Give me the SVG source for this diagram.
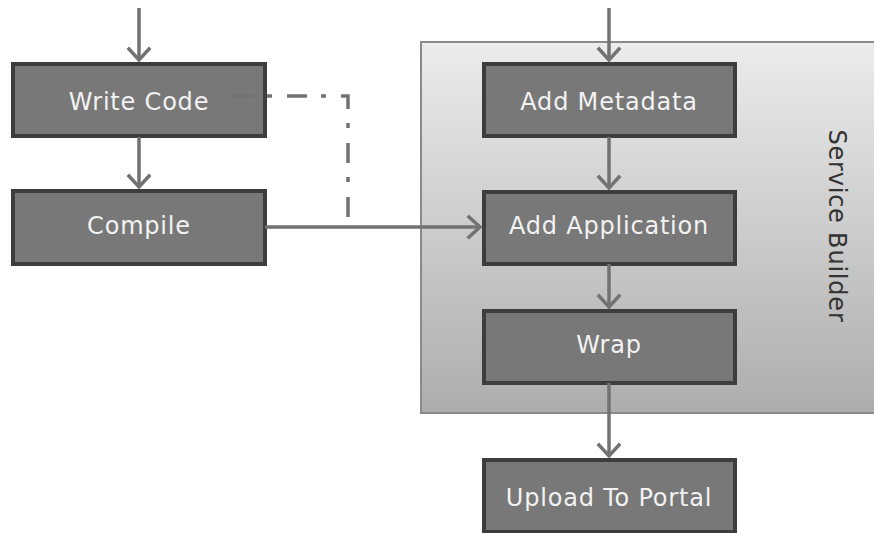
<svg xmlns="http://www.w3.org/2000/svg" width="874" height="533" viewBox="0 0 874 533">
<defs>
<linearGradient id="grad" x1="0" y1="0" x2="0" y2="1">
<stop offset="0" stop-color="#ececec"/>
<stop offset="1" stop-color="#adadad"/>
</linearGradient>
<marker id="arr" markerUnits="userSpaceOnUse" markerWidth="30" markerHeight="30" viewBox="-15 -15 30 30" refX="0" refY="0" orient="auto" overflow="visible">
<path d="M-11,-10 L0,0 L-11,10" fill="none" stroke="#727272" stroke-width="3.5" stroke-linecap="square"/>
</marker>
<style>
.box{fill:#787878;stroke:#3d3d3d;stroke-width:4}
.lbl{font-family:"DejaVu Sans",sans-serif;font-size:24px;letter-spacing:0.8px;fill:#f2f2f2;text-anchor:middle}
.con{fill:none;stroke:#727272;stroke-width:3.5}
</style>
</defs>
<rect width="874" height="533" fill="#ffffff"/>
<g id="service-builder">
<rect x="421" y="42" width="460" height="371" fill="url(#grad)" stroke="#8a8a8a" stroke-width="2"/>
<text x="829" y="226" transform="rotate(90 829 226)" font-family="DejaVu Sans, sans-serif" font-size="24" letter-spacing="0.8" fill="#333333" text-anchor="middle">Service Builder</text>
</g>
<g id="write-code"><rect class="box" x="13" y="64" width="252" height="72"/><text class="lbl" x="139" y="110">Write Code</text></g>
<g id="compile"><rect class="box" x="13" y="191" width="252" height="73"/><text class="lbl" x="139" y="234">Compile</text></g>
<g id="add-metadata"><rect class="box" x="484" y="64" width="251" height="72"/><text class="lbl" x="609" y="110">Add Metadata</text></g>
<g id="add-application"><rect class="box" x="484" y="192" width="251" height="72"/><text class="lbl" x="609" y="234">Add Application</text></g>
<g id="wrap"><rect class="box" x="484" y="311" width="251" height="72"/><text class="lbl" x="609" y="353">Wrap</text></g>
<g id="upload-to-portal"><rect class="box" x="484" y="460" width="251" height="72"/><text class="lbl" x="609" y="506">Upload To Portal</text></g>
<g id="connectors">
<path class="con" d="M139,8 V60" marker-end="url(#arr)"/>
<path class="con" d="M139,137 V187" marker-end="url(#arr)"/>
<path class="con" d="M609,8 V60" marker-end="url(#arr)"/>
<path class="con" d="M609,137 V188" marker-end="url(#arr)"/>
<path class="con" d="M609,264 V307" marker-end="url(#arr)"/>
<path class="con" d="M609,383 V456" marker-end="url(#arr)"/>
<path class="con" d="M265,227 H480" marker-end="url(#arr)"/>
<path class="con" d="M233,96 H348 V227" stroke-dasharray="20 14 5 15" stroke="#7e7e7e" stroke-width="4"/>
</g>
</svg>
